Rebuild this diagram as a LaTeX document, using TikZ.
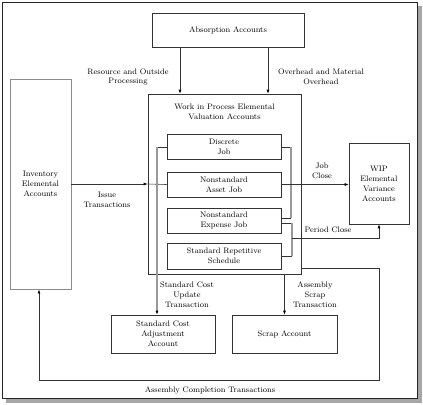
\documentclass[tikz,border=0pt]{standalone}
\usetikzlibrary{arrows.meta}
\begin{document}
\begin{tikzpicture}[x=1bp,y=-1bp,
  every node/.style={font=\fontsize{8}{10}\selectfont, align=center, inner sep=0pt},
  box/.style={draw=black!80, line width=0.6pt, fill=white},
  conn/.style={draw=black!80, line width=0.6pt},
  brk/.style={draw=black!40, line width=1.1pt},
  arr/.style={-{Latex[length=4pt,width=3pt,color=black]}},
  lbl/.style={}]
\useasboundingbox (0,0) rectangle (423,405);
% frame with shadow
\fill[black!35] (6,6) rectangle (421.5,402.5);
\draw[fill=white, draw=black!85, line width=1pt] (2.5,2.5) rectangle (417.5,398.5);
% boxes
\node[box, minimum width=152bp, minimum height=34bp] (abs) at (228,30) {Absorption Accounts};
\node[box, minimum width=153bp, minimum height=180bp] (wip) at (224.5,184) {};
\node (wiptitle) at (224.5,112) {Work in Process Elemental\\Valuation Accounts};
\node[box, minimum width=114bp, minimum height=25bp] (disc) at (224,146.5) {Discrete\\Job};
\node[box, minimum width=114bp, minimum height=25bp] (asset) at (224,184.5) {Nonstandard\\Asset Job};
\node[box, minimum width=114bp, minimum height=25bp] (exp) at (224,220.5) {Nonstandard\\Expense Job};
\node[box, minimum width=114bp, minimum height=26bp] (rep) at (224,256) {Standard Repetitive\\Schedule};
\node[box, draw=black!45, line width=1pt, minimum width=61bp, minimum height=210bp] (inv) at (40.5,184) {Inventory\\Elemental\\Accounts};
\node[box, minimum width=60bp, minimum height=81bp] (var) at (379,183.5) {WIP\\Elemental\\Variance\\Accounts};
\node[box, minimum width=104bp, minimum height=38bp] (sca) at (163,334) {Standard Cost\\Adjustment\\Account};
\node[box, minimum width=105bp, minimum height=38bp] (scrap) at (284.5,334) {Scrap Account};
% helper coordinates
\coordinate (xa) at (180,0);
\coordinate (xb) at (268,0);
\coordinate (bl) at (157,147);
\coordinate (br1t) at (291,147);
\coordinate (br1b) at (291,218);
\coordinate (br2t) at (292,223);
\coordinate (br2m) at (292,238);
\coordinate (br2b) at (292,256);
\coordinate (pc) at (379,238);
\coordinate (ac1) at (379,268);
\coordinate (ac2) at (379,380);
\coordinate (ac3) at (39,380);
\coordinate (acs) at (301,268);
% connectors
\draw[conn, arr] (abs.south -| xa) -- (wip.north -| xa);
\draw[conn, arr] (abs.south -| xb) -- (wip.north -| xb);
\draw[conn, arr] (inv.east) -- (wip.west);
\draw[conn] (wip.west) -- (asset.west);
\draw[conn] (disc.west |- bl) -- (bl);
\draw[brk, arr] (bl) -- (sca.north -| bl);
\draw[conn] (disc.east |- br1t) -- (br1t);
\draw[conn] (exp.east |- br1b) -- (br1b);
\draw[brk] (br1t) -- (br1b);
\draw[conn, arr] (asset.east) -- (asset.east -| var.west);
\draw[conn] (exp.east |- br2t) -- (br2t);
\draw[conn] (rep.east |- br2b) -- (br2b);
\draw[brk] (br2t) -- (br2b);
\draw[conn, arr] (br2m) -- (pc) -- (var.south);
\draw[conn, arr] (wip.south -| scrap.north) -- (scrap.north);
\draw[conn, arr] (acs) -- (ac1) -- (ac2) -- (ac3) -- (inv.south -| ac3);
% labels
\node (l1) at (128,77) {Resource and Outside\\Processing};
\node (l2) at (321,77) {Overhead and Material\\Overhead};
\node (l3) at (107,199.5) {Issue\\Transactions};
\node (l4) at (322,170.5) {Job\\Close};
\node (l5) at (328,230) {Period Close};
\node (l6) at (187,295) {Standard Cost\\Update\\Transaction};
\node (l7) at (315,295) {Assembly\\Scrap\\Transaction};
\node (l8) at (210,390) {Assembly Completion Transactions};
\end{tikzpicture}
\end{document}
